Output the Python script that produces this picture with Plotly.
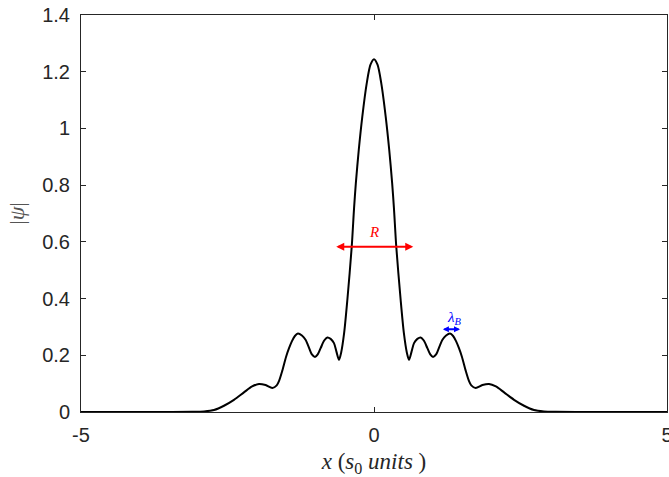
import plotly.graph_objects as go

# half-profile of |psi| (mirrored about x = 0)
x_half = [0, 0.06, 0.125, 0.2, 0.26, 0.31, 0.34, 0.38, 0.455, 0.51, 0.56, 0.598,
          0.64, 0.683, 0.74, 0.796, 0.85, 0.911, 0.96, 1.007, 1.06, 1.12, 1.168,
          1.23, 1.298, 1.35, 1.40, 1.45, 1.50, 1.566, 1.62, 1.66, 1.735, 1.85, 1.963, 2.08,
          2.22, 2.39, 2.56, 2.73, 2.9, 3.1, 3.5, 4.2, 5.0]
y_half = [1.244, 1.225, 1.158, 1.041, 0.924, 0.806, 0.72, 0.583, 0.395, 0.278, 0.21, 0.184,
          0.212, 0.243, 0.258, 0.263, 0.252, 0.225, 0.203, 0.194, 0.203, 0.232, 0.255,
          0.27, 0.277, 0.268, 0.25, 0.225, 0.195, 0.145, 0.11, 0.094, 0.085, 0.095, 0.099, 0.09,
          0.069, 0.043, 0.022, 0.007, 0.002, 0.0005, 0.0, 0.0, 0.0]

x_vals = [-v for v in x_half[::-1]] + x_half[1:]
y_vals = y_half[::-1] + y_half[1:]

x_ticks = [-5, 0, 5]
y_ticks = [0, 0.2, 0.4, 0.6, 0.8, 1, 1.2, 1.4]
y_tick_text = ["0", "0.2", "0.4", "0.6", "0.8", "1", "1.2", "1.4"]

# annotation marks
R_span = [-0.67, 0.67]
R_level = 0.583
lam_span = [1.15, 1.468]
lam_level = 0.292

axis_col = "#262626"
serif = "Liberation Serif, DejaVu Serif, serif"

fig = go.Figure()
fig.add_trace(go.Scatter(x=x_vals, y=y_vals, mode="lines",
                         line=dict(color="black", width=2, shape="spline", smoothing=0.8),
                         showlegend=False, hoverinfo="skip"))

fig.add_annotation(x=R_span[1], y=R_level, ax=R_span[0], ay=R_level,
                   xref="x", yref="y", axref="x", ayref="y", text="",
                   showarrow=True, arrowside="end+start", arrowhead=2, startarrowhead=2,
                   arrowsize=0.8, startarrowsize=0.8, arrowwidth=2, arrowcolor="#ff0000")
fig.add_annotation(x=0.0, y=0.634, text="<i>R</i>", showarrow=False,
                   font=dict(family=serif, size=15, color="#ff0000"))

fig.add_annotation(x=lam_span[1], y=lam_level, ax=lam_span[0], ay=lam_level,
                   xref="x", yref="y", axref="x", ayref="y", text="",
                   showarrow=True, arrowside="end+start", arrowhead=2, startarrowhead=2,
                   arrowsize=0.6, startarrowsize=0.6, arrowwidth=2, arrowcolor="#0000ff")
fig.add_annotation(x=1.37, y=0.333, text="<i>λ</i><sub><i>B</i></sub>", showarrow=False,
                   font=dict(family=serif, size=15, color="#0000ff"))

fig.update_layout(
    width=669, height=477,
    margin=dict(l=81, r=2, t=15, b=65),
    paper_bgcolor="white", plot_bgcolor="white",
    font=dict(family="Liberation Sans, Arial, sans-serif", color=axis_col),
    xaxis=dict(range=[-5, 5], tickvals=x_ticks, ticktext=[str(t) for t in x_ticks],
               ticks="inside", ticklen=5, tickcolor=axis_col, showline=True,
               linecolor=axis_col, linewidth=1, mirror="ticks", showgrid=False,
               zeroline=False, automargin=False, ticklabelstandoff=5,
               ticklabeloverflow="allow",
               tickfont=dict(size=20, color=axis_col),
               title=dict(text="<i>x</i> (<i>s</i><sub>0</sub> <i>units</i> )",
                          font=dict(family=serif, size=23, color=axis_col), standoff=8)),
    yaxis=dict(range=[0, 1.4], tickvals=y_ticks, ticktext=y_tick_text,
               ticks="inside", ticklen=5, tickcolor=axis_col, showline=True,
               linecolor=axis_col, linewidth=1, mirror="ticks", showgrid=False,
               zeroline=False, automargin=False, ticklabelstandoff=6,
               ticklabeloverflow="allow",
               tickfont=dict(size=20, color=axis_col),
               title=dict(text="|<i>ψ</i>|", font=dict(family=serif, size=22, color="#555555"),
                          standoff=11)),
)

fig.write_html("out.html", config={"responsive": False, "displayModeBar": False},
               post_script="document.body.style.margin='0';document.body.style.overflow='hidden';")
